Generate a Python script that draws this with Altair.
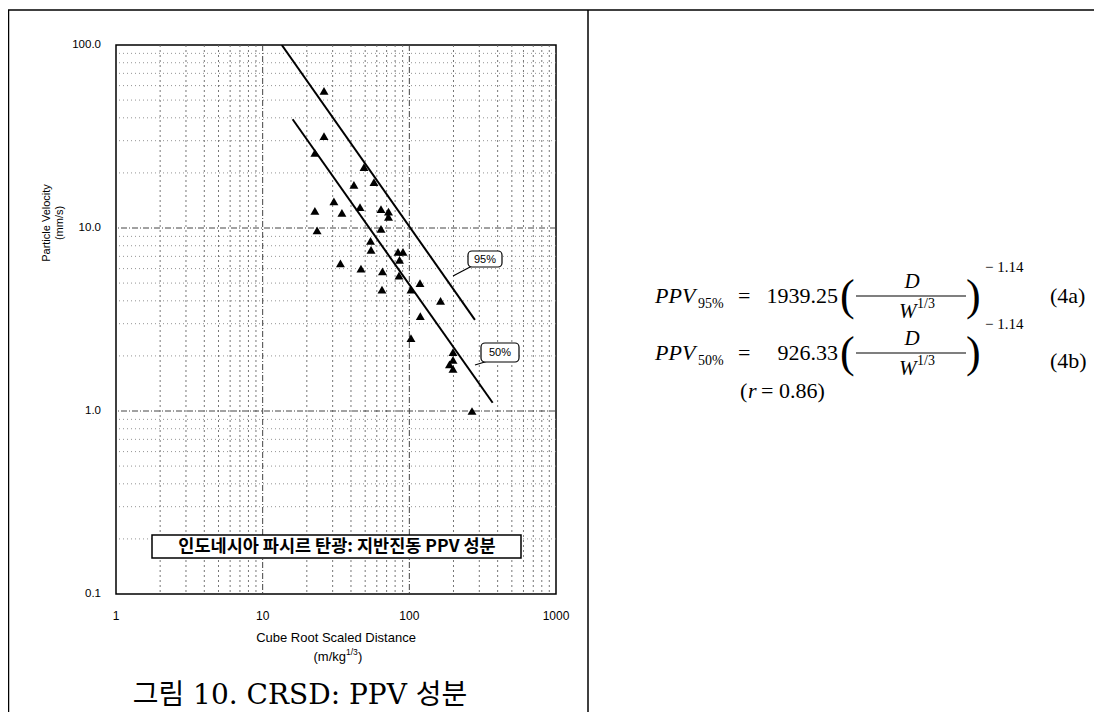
import altair as alt
import pandas as pd

# ---------------- data ----------------
dist = [26.2, 26.2, 22.7, 49.1, 57.4, 41.9, 30.6, 22.7, 34.7, 46.1,
        64.1, 72.1, 72.1, 23.5, 64.1, 54.4, 54.8, 83.7, 90.5, 85.7,
        33.9, 46.8, 65.6, 85.0, 65.1, 102.6, 118.2, 163.2, 118.8, 102.6,
        198.5, 198.5, 187.8, 198.5, 267.5]
ppv = [56.1, 31.8, 25.7, 21.5, 17.8, 17.2, 14.0, 12.4, 12.1, 13.0,
       12.7, 12.3, 11.5, 9.7, 9.9, 8.5, 7.6, 7.4, 7.4, 6.7,
       6.4, 6.0, 5.8, 5.5, 4.6, 4.6, 5.0, 4.0, 3.3, 2.5,
       2.1, 1.9, 1.8, 1.7, 1.0]

fit95_d = [13.5, 280.0]
fit95_v = [100.0, 3.15]
fit50_d = [16.0, 370.0]
fit50_v = [39.3, 1.11]

x_ticks = [1, 10, 100, 1000]
y_ticks = [0.1, 1, 10, 100]
x_major = [10, 100]
y_major = [1, 10]
x_minor = [2, 3, 4, 5, 6, 7, 8, 9, 20, 30, 40, 50, 60, 70, 80, 90,
           200, 300, 400, 500, 600, 700, 800, 900]
y_minor = [0.2, 0.3, 0.4, 0.5, 0.6, 0.7, 0.8, 0.9, 2, 3, 4, 5, 6, 7, 8, 9,
           20, 30, 40, 50, 60, 70, 80, 90]

# ---------------- layout helpers ----------------
OX, OY = 116, 45          # page position of plot origin
W, H = 440, 549
SANS = "Liberation Sans"
SERIF = "Liberation Serif"
KR = "Noto Sans CJK KR"

xs = alt.Scale(type="log", domain=[1, 1000], nice=False)
ys = alt.Scale(type="log", domain=[0.1, 100], nice=False)
one = pd.DataFrame({"a": [0]})


def txt(s, x, y, size=10, font=SANS, align="left", baseline="middle",
        style="normal", weight="normal", angle=0):
    kw = dict(text=s, fontSize=size, font=font, align=align,
              baseline=baseline, fontStyle=style, fontWeight=weight,
              color="black")
    if angle:
        kw["angle"] = angle
    return alt.Chart(one).mark_text(**kw).encode(
        x=alt.value(x - OX), y=alt.value(y - OY))


def hline(x1, x2, y, w=1.2, color="black"):
    return alt.Chart(one).mark_rule(color=color, strokeWidth=w).encode(
        x=alt.value(x1 - OX), x2=alt.value(x2 - OX), y=alt.value(y - OY))


def seg(x1, y1, x2, y2, w=1.2):
    return alt.Chart(one).mark_rule(color="black", strokeWidth=w).encode(
        x=alt.value(x1 - OX), x2=alt.value(x2 - OX),
        y=alt.value(y1 - OY), y2=alt.value(y2 - OY))


def box(x1, y1, x2, y2, r=0, w=1.2):
    return alt.Chart(one).mark_rect(fill="white", stroke="black",
                                    strokeWidth=w, cornerRadius=r).encode(
        x=alt.value(x1 - OX), x2=alt.value(x2 - OX),
        y=alt.value(y1 - OY), y2=alt.value(y2 - OY))


# ---------------- grid ----------------
gx_min = alt.Chart(pd.DataFrame({"d": x_minor})).mark_rule(
    color="#666", strokeWidth=0.9, strokeDash=[2, 3]).encode(
    x=alt.X("d:Q", scale=xs, axis=None))
gy_min = alt.Chart(pd.DataFrame({"v": y_minor})).mark_rule(
    color="#888", strokeWidth=0.9, strokeDash=[1, 3]).encode(
    y=alt.Y("v:Q", scale=ys, axis=None))
gx_maj = alt.Chart(pd.DataFrame({"d": x_major})).mark_rule(
    color="#444", strokeWidth=1, strokeDash=[6, 2, 1, 2]).encode(
    x=alt.X("d:Q", scale=xs, axis=None))
gy_maj = alt.Chart(pd.DataFrame({"v": y_major})).mark_rule(
    color="#444", strokeWidth=1, strokeDash=[6, 2, 1, 2]).encode(
    y=alt.Y("v:Q", scale=ys, axis=None))

# ---------------- tick labels (through the scales) ----------------
xlab = alt.Chart(pd.DataFrame({"d": x_ticks})).mark_text(
    font=SANS, fontSize=12, color="black", align="center",
    baseline="middle").encode(
    x=alt.X("d:Q", scale=xs, axis=None), y=alt.value(616 - OY),
    text=alt.Text("d:Q", format="d"))
ylab = alt.Chart(pd.DataFrame({"v": y_ticks})).mark_text(
    font=SANS, fontSize=11.5, color="black", align="right",
    baseline="middle").encode(
    y=alt.Y("v:Q", scale=ys, axis=None), x=alt.value(101 - OX),
    text=alt.Text("v:Q", format=".1f"))

# ---------------- data layers ----------------
pts = alt.Chart(pd.DataFrame({"d": dist, "v": ppv})).mark_point(
    shape="triangle-up", filled=True, color="black", opacity=1, size=80
).encode(
    x=alt.X("d:Q", scale=xs, axis=None),
    y=alt.Y("v:Q", scale=ys, axis=None),
)

l95 = alt.Chart(pd.DataFrame({"d": fit95_d, "v": fit95_v})).mark_line(
    color="black", strokeWidth=2, clip=True).encode(
    x=alt.X("d:Q", scale=xs, axis=None), y=alt.Y("v:Q", scale=ys, axis=None))
l50 = alt.Chart(pd.DataFrame({"d": fit50_d, "v": fit50_v})).mark_line(
    color="black", strokeWidth=2, clip=True).encode(
    x=alt.X("d:Q", scale=xs, axis=None), y=alt.Y("v:Q", scale=ys, axis=None))

# ---------------- annotations inside chart ----------------
ann = [
    seg(453, 276, 472, 266), box(468, 251, 502, 267, r=4),
    txt("95%", 485, 259.5, size=11, align="center"),
    seg(475, 365, 488, 361), box(481, 343, 519, 362, r=4),
    txt("50%", 500, 352.5, size=11, align="center"),
    box(152, 535, 521, 558, w=1.5),
    txt("인도네시아 파시르 탄광: 지반진동 PPV 성분", 337, 547, size=17.5,
        font=KR, align="center", weight="bold"),
]

# ---------------- axis titles / caption ----------------
titles = [
    txt("Particle Velocity", 47, 223, size=11, align="center", angle=270),
    txt("(mm/s)", 60, 223, size=11, align="center", angle=270),
    txt("Cube Root Scaled Distance", 336, 638, size=13, align="center"),
    txt("(m/kg", 346, 657, size=13, align="right"),
    txt("1/3", 346, 652, size=8.5),
    txt(")", 358, 657, size=13),
    txt("그림 10. CRSD: PPV 성분", 300, 696, size=28,
        font=f"DejaVu Serif, {KR}", align="center"),
]

# ---------------- table frame ----------------
frame = [
    hline(8, 1094, 10, w=1.5),
    seg(8.5, 10, 8.5, 712, w=1.5),
    seg(588, 10, 588, 712, w=1.5),
]


# ---------------- equations ----------------
def equation(y, coef, label):
    return [
        txt("PPV", 655, y, size=22, font=SERIF, style="italic"),
        txt(label, 698, y + 8, size=14, font=SERIF),
        txt("=", 738, y, size=22, font=SERIF),
        txt(coef, 838, y, size=22, font=SERIF, align="right"),
        txt("(", 840, y + 1, size=44, font=SERIF),
        txt("D", 912, y - 14, size=21, font=SERIF, style="italic",
            align="center"),
        hline(856, 966, y, w=1.2),
        txt("W", 899, y + 16, size=21, font=SERIF, style="italic"),
        txt("1/3", 917, y + 8, size=14, font=SERIF),
        txt(")", 966, y + 1, size=44, font=SERIF),
        txt("− 1.14", 985, y - 29, size=15, font=SERIF),
    ]


eqs = equation(296, "1939.25", "95%") + [
    txt("(4a)", 1050, 296, size=22, font=SERIF)]
eqs += equation(353, "926.33", "50%") + [
    txt("(4b)", 1050, 361, size=22, font=SERIF),
    txt("(", 740, 391, size=22, font=SERIF),
    txt("r", 748, 391, size=22, font=SERIF, style="italic"),
    txt("= 0.86)", 761, 391, size=22, font=SERIF),
]

chart = alt.layer(
    gx_min, gy_min, gx_maj, gy_maj, l95, l50, pts, xlab, ylab,
    *ann, *titles, *frame, *eqs
).properties(
    width=W, height=H,
    autosize=alt.AutoSizeParams(type="none"),
    padding={"left": OX - 8, "top": OY - 8,
             "right": 1086 - (OX - 8) - W, "bottom": 704 - (OY - 8) - H},
    background="white",
).configure_view(stroke="black", strokeWidth=1.5)

chart.save("out.html", embed_options={"renderer": "svg", "actions": False})
